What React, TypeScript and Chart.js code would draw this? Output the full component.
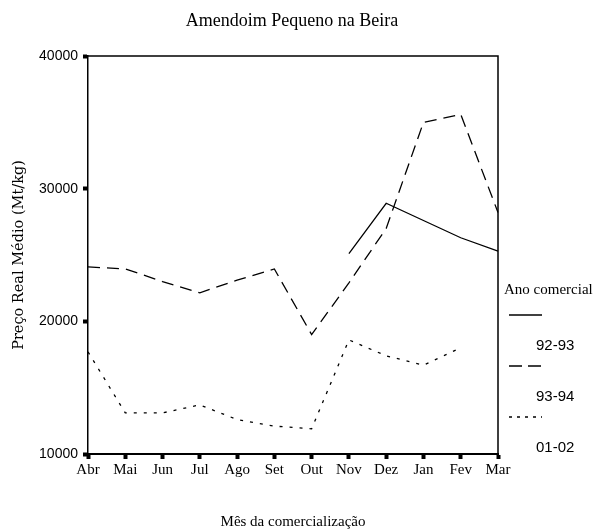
import React, { useEffect, useRef } from "react";
import { Chart, registerables } from "chart.js";

Chart.register(...registerables);

const months = ["Abr", "Mai", "Jun", "Jul", "Ago", "Set", "Out", "Nov", "Dez", "Jan", "Fev", "Mar"];
const s9293: (number | null)[] = [null, null, null, null, null, null, null, 25100, 28900, 27600, 26300, 25300];
const s9394: (number | null)[] = [24100, 23950, 23000, 22150, 23100, 23950, 19000, 22900, 27000, 35000, 35600, 28200];
const s0102: (number | null)[] = [17700, 13100, 13100, 13700, 12600, 12100, 11900, 18600, 17400, 16700, 18000, null];
const seriesLabels = ["92-93", "93-94", "01-02"];
const yMin = 10000;
const yMax = 40000;
const yStep = 10000;
const chartTitle = "Amendoim Pequeno na Beira";
const legendTitle = "Ano comercial";
const xTitle = "Mês da comercialização";
const yTitle = "Preço Real Médio (Mt/kg)";

const SERIF = "'Liberation Serif', 'Times New Roman', serif";
const SANS = "'Liberation Sans', Arial, sans-serif";

const dataDashes = [[], [12, 7], [3, 7]];
const legendDashes = [[], [13, 6], [3, 5]];

const framePlugin = {
  id: "frameAndLegend",
  afterDraw(chart: any) {
    const { ctx, chartArea } = chart;
    const { left, top, right, bottom } = chartArea;
    ctx.save();
    ctx.strokeStyle = "#000";
    ctx.lineWidth = 1.5;
    ctx.beginPath();
    ctx.moveTo(left, top);
    ctx.lineTo(right, top);
    ctx.lineTo(right, bottom);
    ctx.stroke();

    ctx.fillStyle = "#000";
    ctx.font = `18px ${SERIF}`;
    ctx.textAlign = "center";
    ctx.textBaseline = "middle";
    ctx.fillText(chartTitle, (left + right) / 2 - 1, 21);

    const lx = right + 6;
    ctx.textAlign = "left";
    ctx.font = `15px ${SERIF}`;
    ctx.fillText(legendTitle, lx, 290);
    chart.data.datasets.forEach((ds: any, i: number) => {
      const y = 315 + 51 * i;
      ctx.setLineDash(legendDashes[i]);
      ctx.lineWidth = 1.3;
      ctx.strokeStyle = "#000";
      ctx.beginPath();
      ctx.moveTo(lx + 5, y);
      ctx.lineTo(lx + 38, y);
      ctx.stroke();
      ctx.setLineDash([]);
      ctx.font = `15px ${SANS}`;
      ctx.fillText(ds.label, lx + 32, y + 31);
    });
    ctx.restore();
  },
};

export default function App() {
  const ref = useRef<HTMLCanvasElement>(null);

  useEffect(() => {
    if (!ref.current) return;
    const series = [s9293, s9394, s0102];
    const chart = new Chart(ref.current, {
      type: "line",
      data: {
        labels: months,
        datasets: series.map((d, i) => ({
          label: seriesLabels[i],
          data: d,
          borderColor: "#000",
          borderWidth: 1.3,
          borderDash: dataDashes[i],
          pointRadius: 0,
          pointHoverRadius: 0,
          fill: false,
          tension: 0,
          spanGaps: false,
        })),
      },
      options: {
        animation: false,
        responsive: true,
        maintainAspectRatio: false,
        layout: { padding: { top: 56, right: 96, left: 0, bottom: 0 } },
        plugins: {
          legend: { display: false },
          title: { display: false },
          tooltip: { enabled: false },
        },
        scales: {
          x: {
            type: "category",
            offset: false,
            grid: { drawOnChartArea: false, drawTicks: true, tickLength: 5, tickWidth: 4, color: "#000" },
            border: { color: "#000", width: 2 },
            ticks: {
              color: "#000",
              font: { family: SERIF, size: 15 },
              padding: 2,
              autoSkip: false,
              maxRotation: 0,
            },
            title: {
              display: true,
              text: xTitle,
              color: "#000",
              font: { family: SERIF, size: 15 },
              padding: { top: 0, bottom: -1 },
            },
            afterFit: (s: any) => {
              s.height = 76;
            },
          },
          y: {
            min: yMin,
            max: yMax,
            grid: { drawOnChartArea: false, drawTicks: true, tickLength: 5, tickWidth: 4, color: "#000" },
            border: { color: "#000", width: 1.5 },
            ticks: {
              stepSize: yStep,
              color: "#000",
              font: { family: SANS, size: 14 },
              padding: 5,
              callback: (v: any) => String(v),
            },
            title: {
              display: true,
              text: yTitle,
              color: "#000",
              font: { family: "'DejaVu Serif', serif", size: 14.5 },
              padding: { top: 11, bottom: 0 },
            },
            afterFit: (s: any) => {
              s.width = 88;
            },
          },
        },
      },
      plugins: [framePlugin],
    });
    return () => chart.destroy();
  }, []);

  return (
    <div style={{ position: "absolute", left: 0, top: 0, width: 594, height: 530, background: "#fff" }}>
      <canvas ref={ref} width={594} height={530} />
    </div>
  );
}
